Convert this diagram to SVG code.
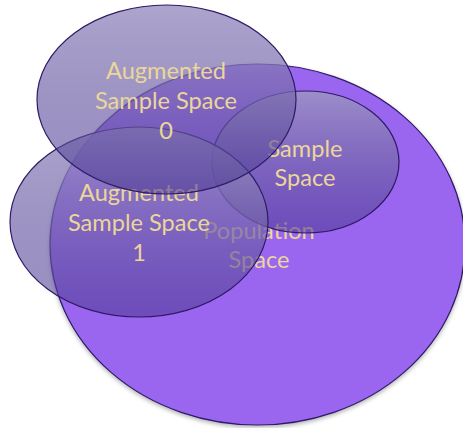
<svg xmlns="http://www.w3.org/2000/svg" width="463" height="428" viewBox="0 0 463 428">
  <style>
    .outline { stroke: #2e1a66; stroke-width: 1.2; }
    .label { font-family: Lato, "Open Sans", sans-serif; font-size: 23.6px; fill: #ebd69a; text-anchor: middle; }
  </style>
  <defs>
    <linearGradient id="glass" x1="0" y1="0" x2="0" y2="1">
      <stop offset="0" stop-color="#9e95c4" stop-opacity="0.85"/>
      <stop offset="1" stop-color="#493791" stop-opacity="0.55"/>
    </linearGradient>
    <filter id="shadow" x="-10%" y="-10%" width="120%" height="125%">
      <feDropShadow dx="0" dy="2" stdDeviation="2" flood-color="#000" flood-opacity="0.3"/>
    </filter>
  </defs>
  <rect width="463" height="428" fill="#ffffff"/>
  <g id="population">
    <ellipse cx="257.5" cy="244.5" rx="207.5" ry="180.5" fill="#9a66f0" class="outline" filter="url(#shadow)"/>
    <text class="label" x="259" y="239">Population</text>
    <text class="label" x="259" y="268">Space</text>
  </g>
  <g id="sample">
    <ellipse cx="305.5" cy="162" rx="93.5" ry="71" fill="url(#glass)" class="outline"/>
    <text class="label" x="305" y="157">Sample</text>
    <text class="label" x="305" y="186">Space</text>
  </g>
  <g id="augmented1">
    <ellipse cx="139" cy="222" rx="129" ry="95" fill="url(#glass)" class="outline"/>
    <text class="label" x="139" y="201">Augmented</text>
    <text class="label" x="139" y="231">Sample Space</text>
    <text class="label" x="139" y="261">1</text>
  </g>
  <g id="augmented0">
    <ellipse cx="166.5" cy="99.5" rx="129.5" ry="94.5" fill="url(#glass)" class="outline"/>
    <text class="label" x="166" y="79">Augmented</text>
    <text class="label" x="166" y="109">Sample Space</text>
    <text class="label" x="166" y="139">0</text>
  </g>
  <g id="connectors"/>
</svg>
